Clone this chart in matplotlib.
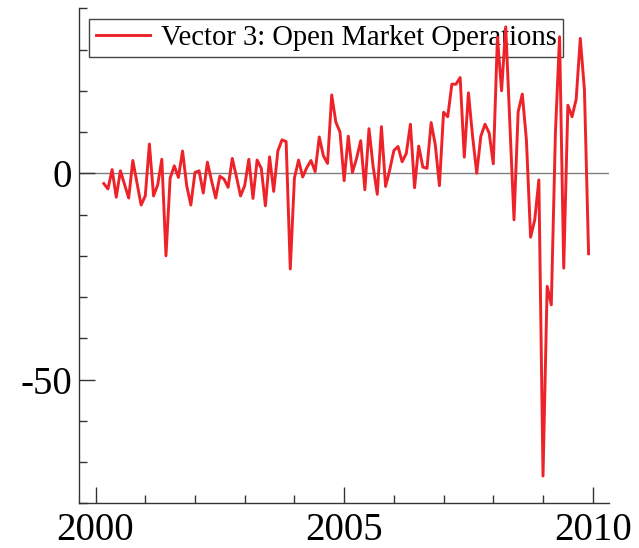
import numpy as np
import matplotlib
matplotlib.use("Agg")
import matplotlib.pyplot as plt
from matplotlib.ticker import FixedLocator, FixedFormatter

plt.rcParams['font.family'] = ['Liberation Serif', 'DejaVu Serif']
plt.rcParams['axes.unicode_minus'] = False

# Monthly series, March 2000 .. December 2009
start_year = 2000
start_month = 3
values = [
    -2.5, -3.8, 0.9, -5.8, 0.6, -2.7, -6.0, 3.1, -2.3, -7.7,
    -5.5, 7.1, -5.5, -2.8, 3.4, -20.0, -1.2, 1.8, -1.0, 5.4,
    -3.0, -7.7, 0.2, 0.6, -4.8, 2.7, -1.8, -6.0, -0.7, -1.4,
    -3.4, 3.6, -0.8, -5.5, -3.0, 3.4, -6.1, 3.2, 1.2, -7.9,
    4.0, -4.4, 5.4, 8.1, 7.7, -23.2, -1.2, 3.2, -0.9, 1.4,
    3.1, 0.4, 8.8, 4.2, 2.4, 19.0, 12.4, 10.0, -1.8, 9.0,
    0.2, 3.6, 7.9, -4.0, 10.8, 1.6, -5.1, 11.3, -3.2, 0.8,
    5.5, 6.5, 2.8, 4.8, 11.9, -3.5, 6.6, 1.5, 1.2, 12.3,
    6.9, -3.0, 14.8, 13.7, 21.6, 21.6, 23.2, 3.9, 19.5, 9.0,
    0.0, 9.0, 11.9, 9.8, 2.3, 33.0, 20.0, 35.5, 12.0, -11.3,
    14.9, 19.2, 8.0, -15.5, -11.3, -1.6, -73.4, -27.4, -31.9, 10.0,
    33.1, -23.0, 16.5, 13.7, 17.9, 32.7, 20.2, -19.5,
]
series_label = "Vector 3: Open Market Operations"
x_major = [2000, 2005, 2010]
x_major_labels = ["2000", "2005", "2010"]
x_minor = [2001, 2002, 2003, 2004, 2006, 2007, 2008, 2009]
y_major = [-50, 0]
y_major_labels = ["-50", "0"]
y_minor = [-80, -70, -60, -40, -30, -20, -10, 10, 20, 30, 40]

n = len(values)
x = start_year + (start_month - 1 + np.arange(n)) / 12.0

fig = plt.figure(figsize=(6.39, 5.48), dpi=100)
ax = fig.add_axes([0.1236, 0.0816, 0.8299, 0.9033])

ax.axhline(0, color='#808080', lw=1.0, zorder=1)
ax.plot(x, values, color='#ee2229', lw=2.1, label=series_label, zorder=6)

ax.set_xlim(1999.667, 2010.333)
ax.set_ylim(-80, 40)

for s in ['top', 'right']:
    ax.spines[s].set_visible(False)
for s in ['left', 'bottom']:
    ax.spines[s].set_color('#333333')
    ax.spines[s].set_linewidth(1.0)

ax.xaxis.set_major_locator(FixedLocator(x_major))
ax.xaxis.set_major_formatter(FixedFormatter(x_major_labels))
ax.xaxis.set_minor_locator(FixedLocator(x_minor))
ax.yaxis.set_major_locator(FixedLocator(y_major))
ax.yaxis.set_major_formatter(FixedFormatter(y_major_labels))
ax.yaxis.set_minor_locator(FixedLocator(y_minor))

ax.tick_params(which='major', direction='in', length=11.3, width=1.0,
               color='#333333', labelsize=28, pad=5)
ax.tick_params(which='minor', direction='in', length=5.5, width=1.0,
               color='#333333')
ax.tick_params(axis='x', which='major', pad=6)

leg = ax.legend(loc='upper left', fontsize=20.6, frameon=True, fancybox=False,
                edgecolor='#444444', framealpha=1.0, borderaxespad=0.36,
                handlelength=1.9, handletextpad=0.4, borderpad=0.22)
leg.get_frame().set_linewidth(1.0)
leg.set_zorder(5)

fig.savefig('out.png', dpi=100)
